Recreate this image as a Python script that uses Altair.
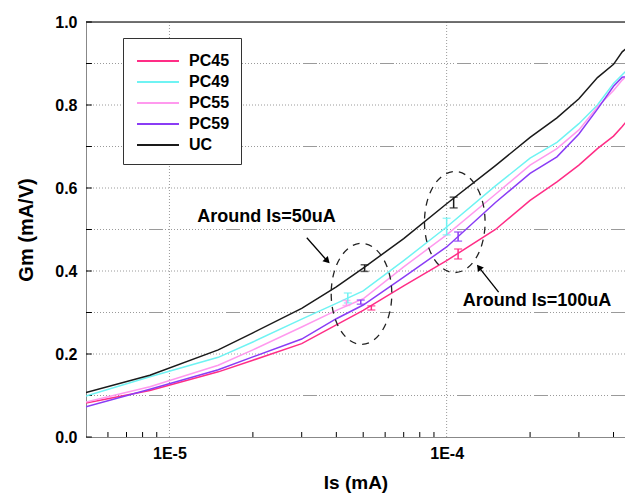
import altair as alt
import pandas as pd

# ---------------- data ----------------
series_names = ["PC45", "PC49", "PC55", "PC59", "UC"]
series_colors = ["#ff2d86", "#6ff3f3", "#ff99ee", "#8a3cf5", "#1a1a1a"]

is_ma = [5e-6, 8.5e-6, 1.5e-5, 2e-5, 3e-5, 4e-5, 5e-5, 7e-5, 1e-4, 1.5e-4,
         2e-4, 2.5e-4, 3e-4, 3.5e-4, 4e-4, 4.3e-4, 4.7e-4]
gm_pc45 = [0.082, 0.112, 0.157, 0.185, 0.225, 0.270, 0.305, 0.364, 0.425, 0.500,
           0.570, 0.615, 0.655, 0.695, 0.725, 0.748, 0.780]
gm_pc49 = [0.099, 0.145, 0.192, 0.229, 0.284, 0.322, 0.352, 0.425, 0.506, 0.605,
           0.672, 0.710, 0.755, 0.800, 0.852, 0.873, 0.898]
gm_pc55 = [0.084, 0.121, 0.173, 0.210, 0.265, 0.305, 0.333, 0.410, 0.487, 0.585,
           0.655, 0.695, 0.740, 0.795, 0.835, 0.860, 0.885]
gm_pc59 = [0.073, 0.115, 0.162, 0.193, 0.236, 0.285, 0.318, 0.385, 0.458, 0.565,
           0.635, 0.675, 0.730, 0.790, 0.845, 0.867, 0.872]
gm_uc = [0.107, 0.149, 0.210, 0.251, 0.310, 0.362, 0.407, 0.478, 0.562, 0.654,
         0.722, 0.769, 0.815, 0.866, 0.898, 0.928, 0.950]

# error bars around Is=50uA and Is=100uA
eb_series = ["UC", "PC49", "PC55", "PC59", "PC45", "UC", "PC49", "PC59", "PC45"]
eb_is = [5.06e-5, 4.4e-5, 4.35e-5, 4.9e-5, 5.35e-5, 1.06e-4, 1.0e-4, 1.1e-4, 1.1e-4]
eb_gm = [0.407, 0.335, 0.323, 0.325, 0.311, 0.565, 0.507, 0.483, 0.441]
eb_err = [0.008, 0.012, 0.006, 0.005, 0.005, 0.013, 0.020, 0.011, 0.012]

# annotations
ann_text = ["Around Is=50uA", "Around Is=100uA"]
ann_is = [2.24e-5, 2.12e-4]
ann_gm = [0.530, 0.328]
arrow_is = [3.13e-5, 1.54e-4]
arrow_gm = [0.480, 0.349]
arrow_is2 = [3.69e-5, 1.315e-4]
arrow_gm2 = [0.426, 0.407]
arrow_angle = [136, 322]
ellipse_is = [4.93e-5, 1.07e-4]
ellipse_gm = [0.345, 0.518]

# axes
x_domain = [5e-6, 4.4e-4]
y_domain = [0.0, 1.0]
x_tick_values = [1e-5, 1e-4]
x_tick_labels = ["1E-5", "1E-4"]
x_minor_ticks = [6e-6, 7e-6, 8e-6, 9e-6, 2e-5, 3e-5, 4e-5, 5e-5, 6e-5, 7e-5, 8e-5,
                 9e-5, 2e-4, 3e-4, 4e-4]
y_major = [0.0, 0.2, 0.4, 0.6, 0.8, 1.0]
y_minor = [0.1, 0.3, 0.5, 0.7, 0.9]

# ---------------- tables ----------------
rows = []
for name, vals in zip(series_names, [gm_pc45, gm_pc49, gm_pc55, gm_pc59, gm_uc]):
    for x, y in zip(is_ma, vals):
        rows.append({"series": name, "Is": x, "Gm": y})
df = pd.DataFrame(rows)

eb_df = pd.DataFrame({"series": eb_series, "Is": eb_is,
                      "lo": [g - e for g, e in zip(eb_gm, eb_err)],
                      "hi": [g + e for g, e in zip(eb_gm, eb_err)]})
ann_df = pd.DataFrame({"label": ann_text, "Is": ann_is, "Gm": ann_gm})
arrow_df = pd.DataFrame({"Is": arrow_is, "Gm": arrow_gm, "Is2": arrow_is2,
                         "Gm2": arrow_gm2, "ang": arrow_angle})
ell_df = pd.DataFrame({"Is": ellipse_is, "Gm": ellipse_gm})

FONT = "Liberation Sans"
xs = alt.Scale(type="log", domain=x_domain, nice=False)
ys = alt.Scale(domain=y_domain, nice=False, zero=False)
cs = alt.Scale(domain=series_names, range=series_colors)

x_axis = alt.Axis(values=x_tick_values, ticks=False, grid=False,
                  labelExpr=f"datum.value < 3e-5 ? '{x_tick_labels[0]}' : '{x_tick_labels[1]}'",
                  labelFontSize=16, labelFontWeight="bold", labelPadding=8,
                  title="Is (mA)", titleFontSize=19, titlePadding=12)
y_axis = alt.Axis(values=y_major, format=".1f", ticks=False, grid=False,
                  labelFontSize=16, labelFontWeight="bold", labelPadding=9,
                  title="Gm (mA/V)", titleFontSize=20, titlePadding=18)


def X(field):
    return alt.X(field, type="quantitative", scale=xs, axis=x_axis)


def Y(field):
    return alt.Y(field, type="quantitative", scale=ys, axis=y_axis)


# grid lines
gmaj = alt.Chart(pd.DataFrame({"v": y_major[1:-1]})).mark_rule(
    color="#9a9a9a", strokeWidth=1, strokeDash=[1, 2]).encode(y=Y("v"))
gmin = alt.Chart(pd.DataFrame({"v": y_minor})).mark_rule(
    color="#9a9a9a", strokeWidth=1,
    strokeDash=[14, 3] + [1, 2] * 20).encode(y=Y("v"))
gvert = alt.Chart(pd.DataFrame({"v": x_tick_values})).mark_rule(
    color="#9a9a9a", strokeWidth=1, strokeDash=[1, 2]).encode(x=X("v"))
top_border = alt.Chart(pd.DataFrame({"v": [y_domain[1]]})).mark_rule(
    color="#444", strokeWidth=1.5).encode(y=Y("v"))

# inward ticks
xt = pd.DataFrame({"v": x_minor_ticks})
xt["a"] = y_domain[0]
xt["b"] = 0.012
xticks = alt.Chart(xt).mark_rule(color="black", strokeWidth=1).encode(
    x=X("v"), y=Y("a"), y2="b")
yt = pd.DataFrame({"v": y_major + y_minor})
yt["a"] = x_domain[0]
yt["b"] = 5.25e-6
yticks = alt.Chart(yt).mark_rule(color="black", strokeWidth=1).encode(
    y=Y("v"), x=X("a"), x2="b")

# data lines
lines = alt.Chart(df).mark_line(strokeWidth=1.5, clip=True).encode(
    x=X("Is"),
    y=Y("Gm"),
    color=alt.Color("series:N", scale=cs, sort=series_names,
                    legend=alt.Legend(title=None, orient="none", legendX=37, legendY=16,
                                      padding=11, strokeColor="#333", fillColor="white",
                                      symbolType="M-1.97,0H1.97", symbolSize=454,
                                      symbolStrokeWidth=2, symbolOffset=12, labelOffset=19,
                                      rowPadding=1, labelFont=FONT, labelFontSize=16,
                                      labelFontWeight="bold", labelColor="black")),
    order=alt.Order("Is:Q"),
)

errbars = alt.Chart(eb_df).mark_errorbar(ticks=alt.MarkConfig(size=8), thickness=1.5).encode(
    x=X("Is"), y=Y("lo"), y2="hi:Q",
    color=alt.Color("series:N", scale=cs, legend=None))

ellipses = alt.Chart(ell_df).mark_point(
    shape="M-0.6,0A0.6,1,0,1,0,0.6,0A0.6,1,0,1,0,-0.6,0Z",
    size=10200, filled=False, color="#222", strokeWidth=1.3, strokeDash=[7, 6],
    opacity=1).encode(x=X("Is"), y=Y("Gm"))

arrows = alt.Chart(arrow_df).mark_rule(color="black", strokeWidth=1.3).encode(
    x=X("Is"), y=Y("Gm"), x2="Is2", y2="Gm2")
heads = alt.Chart(arrow_df).mark_point(shape="triangle", size=55, filled=True,
                                       color="black", opacity=1).encode(
    x=X("Is2"), y=Y("Gm2"), angle=alt.Angle("ang:Q", scale=None))

texts = alt.Chart(ann_df).mark_text(font=FONT, fontSize=18, fontWeight="bold",
                                    color="black").encode(
    x=X("Is"), y=Y("Gm"), text="label:N")

chart = alt.layer(
    gmaj, gmin, gvert, top_border, xticks, yticks, lines, errbars, ellipses,
    arrows, heads, texts
).properties(
    width=539, height=415,
    autosize=alt.AutoSizeParams(type="none"),
    padding={"left": 78, "top": 14, "right": 0, "bottom": 56},
).configure_view(stroke=None).configure_axis(
    domainColor="black", domainWidth=1.5, labelFont=FONT, titleFont=FONT,
    labelColor="black", titleColor="black", titleFontWeight="bold",
).configure(background="white")

chart.save("out.html", embed_options={"renderer": "svg", "actions": False})
